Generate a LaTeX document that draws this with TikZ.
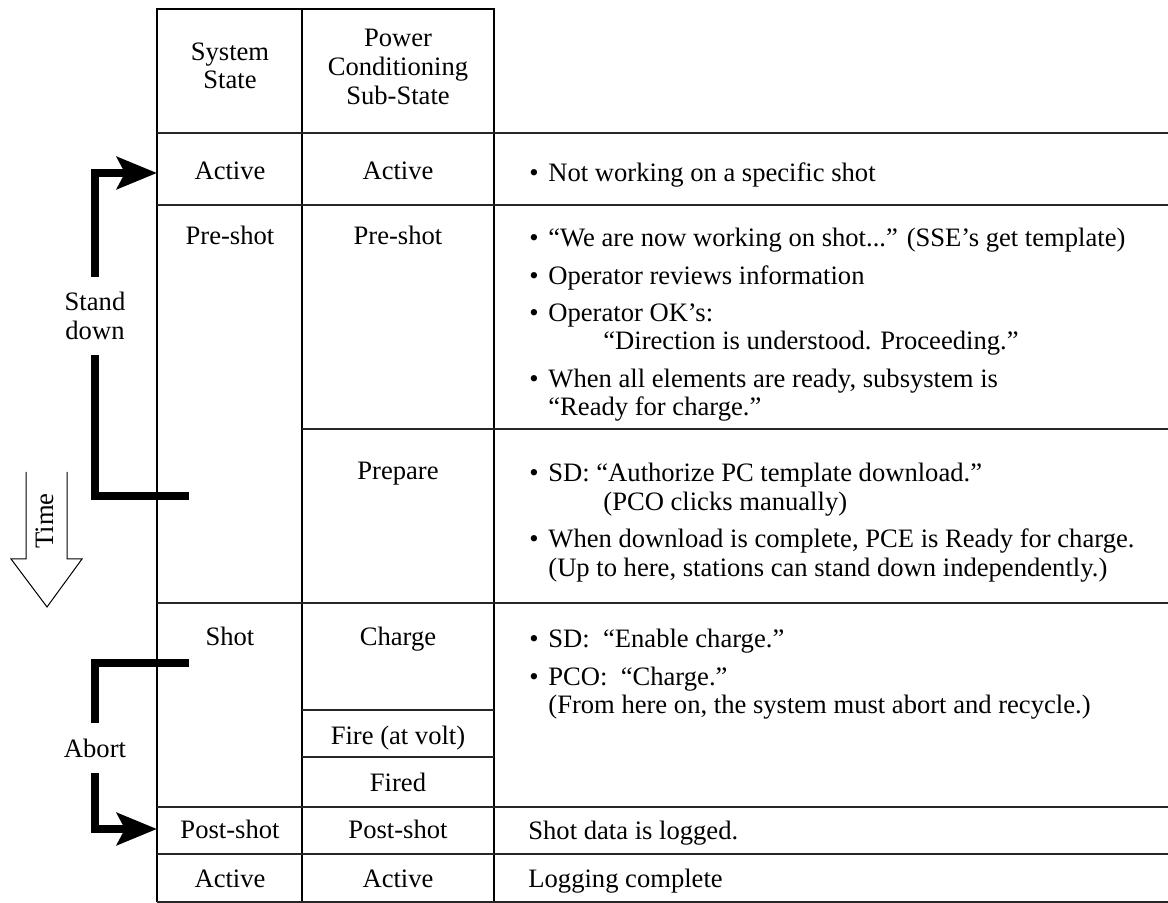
\documentclass[tikz,border=0pt]{standalone}
\usepackage{fontspec}
\setmainfont{Liberation Serif}
\usetikzlibrary{arrows.meta}
\newcommand{\itm}{\makebox[9.5pt][l]{\textbullet}}
\newcommand{\hang}{\hspace*{9.5pt}}
\newcommand{\quo}{\hspace*{37pt}}

\begin{document}
\begin{tikzpicture}[x=0.5pt,y=-0.5pt,
  every node/.style={font=\fontsize{13.3}{14.3}\selectfont, inner sep=0pt},
  cell/.style={anchor=base},
  desc/.style={anchor=north west, align=left},
  rule/.style={line width=0.7pt, draw=black!85},
  col/.style={line width=1pt},
  flow/.style={line width=4pt},
  flowtip/.style={line width=4pt, -{Stealth[length=20pt,width=16pt,inset=4pt]}},
  gap/.style={align=center, inner xsep=0pt, inner ysep=7.5pt}]

\useasboundingbox (0,0) rectangle (1168,903);

% table
\draw[col] (157,902) -- (157,9) -- (494,9) -- (494,902);
\draw[col] (302,9) -- (302,902);
\foreach \y in {133,205,603,807,854,902} \draw[rule] (157,\y) -- (1168,\y);
\draw[rule] (302,429) -- (1168,429);
\foreach \y in {710,757} \draw[rule] (302,\y) -- (494,\y);

  \draw (230,42) node[anchor=north, align=center] (hsys) {System\\State};
  \draw (398,29) node[anchor=north, align=center] (hpc) {Power\\Conditioning\\Sub-State};

  \draw (230,180) node[cell] (s1) {Active};
  \draw (398,180) node[cell] (p1) {Active};
  \draw (230,245) node[cell] (s2) {Pre-shot};
  \draw (398,245) node[cell] (p2) {Pre-shot};
  \draw (398,480) node[cell] (p3) {Prepare};
  \draw (230,646) node[cell] (s3) {Shot};
  \draw (398,646) node[cell] (p4) {Charge};
  \draw (398,744) node[cell] (p5) {Fire (at volt)};
  \draw (398,791) node[cell] (p6) {Fired};
  \draw (230,838) node[cell] (s4) {Post-shot};
  \draw (398,838) node[cell] (p7) {Post-shot};
  \draw (230,887) node[cell] (s5) {Active};
  \draw (398,887) node[cell] (p8) {Active};

  \draw (529,162) node[desc] (d1) {\itm Not working on a specific shot};
  \draw (529,228) node[desc] (d2) {\itm “We are now working on shot...” (SSE’s get template)\\[4.3pt]
    \itm Operator reviews information\\[4.3pt]
    \itm Operator OK’s:\\
    \quo “Direction is understood. Proceeding.”\\[4.3pt]
    \itm When all elements are ready, subsystem is\\
    \hang “Ready for charge.”};
  \draw (529,463) node[desc] (d3) {\itm SD: “Authorize PC template download.”\\
    \quo (PCO clicks manually)\\[4.3pt]
    \itm When download is complete, PCE is Ready for charge.\\
    \hang (Up to here, stations can stand down independently.)};
  \draw (529,629) node[desc] (d4) {\itm SD:\ \ “Enable charge.”\\[4.3pt]
    \itm PCO:\ \ “Charge.”\\
    \hang (From here on, the system must abort and recycle.)};
  \draw (528,839) node[anchor=base west] (d5) {Shot data is logged.};
  \draw (528,887) node[anchor=base west] (d6) {Logging complete};

  \coordinate (sdfrom) at (189,496);
  \coordinate (sdto) at (157,173);
  \draw (95,316) node[gap] (sd) {Stand\\down};
  \coordinate (abfrom) at (189,663);
  \coordinate (abto) at (157,829);
  \draw (95,748) node[gap] (ab) {Abort};

    \draw[flow] (sdfrom) -| (sd.south);
    \draw[flowtip] (sd.north) |- (sdto);
    \draw[flow] (abfrom) -| (ab.north);
    \draw[flowtip] (ab.south) |- (abto);

  \draw[line width=0.5pt] (26,472) -- (26,559) -- (11,559) -- (47,607) -- (82,559) -- (67,559) -- (67,472);
  \draw (45,521) node[rotate=90] (time) {Time};
\end{tikzpicture}
\end{document}
